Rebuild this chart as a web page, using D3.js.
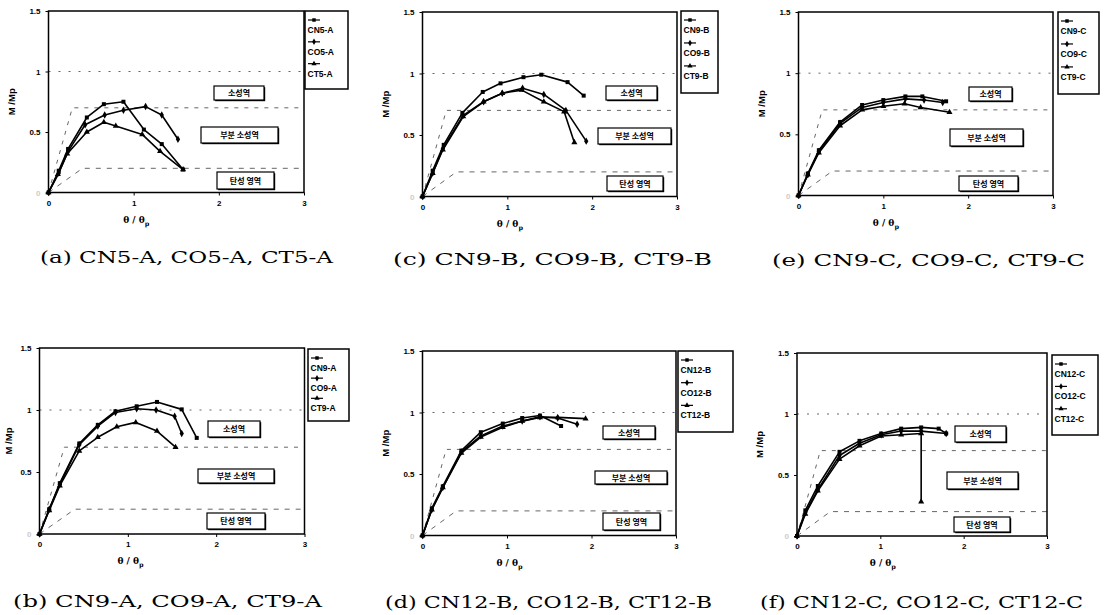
<!DOCTYPE html>
<html><head><meta charset="utf-8">
<script src="https://cdn.jsdelivr.net/npm/d3@7"></script>
<style>body{margin:0;background:#fff}</style>
</head><body>
<svg id="chart" width="1105" height="615"></svg>
<script>
// ---------- DATA ----------
const xTicks = [0, 1, 2, 3];
const yTicks = [0, 0.5, 1, 1.5];
const yTickLabels = ["0", "0.5", "1", "1.5"];
const zoneLevels = [1.0, 0.7, 0.2];
const zoneCornerX = [0, 0.28, 0.4];
const zoneNames = ["소성역", "부분 소성역", "탄성 영역"];

const a_CN = [[0,0],[0.12,0.18],[0.23,0.36],[0.45,0.62],[0.65,0.73],[0.88,0.75],[1.12,0.52],[1.33,0.40],[1.58,0.19]];
const a_CO = [[0,0],[0.12,0.16],[0.23,0.34],[0.43,0.56],[0.66,0.64],[0.88,0.68],[1.14,0.71],[1.33,0.64],[1.52,0.44]];
const a_CT = [[0,0],[0.11,0.15],[0.22,0.32],[0.45,0.50],[0.65,0.58],[0.79,0.55],[1.10,0.48],[1.31,0.34],[1.58,0.19]];

const c_CN = [[0,0],[0.12,0.21],[0.25,0.42],[0.47,0.68],[0.71,0.85],[0.92,0.92],[1.19,0.97],[1.40,0.99],[1.71,0.93],[1.90,0.82]];
const c_CO = [[0,0],[0.12,0.19],[0.24,0.39],[0.48,0.66],[0.72,0.77],[0.94,0.84],[1.18,0.88],[1.43,0.83],[1.69,0.70],[1.93,0.45]];
const c_CT = [[0,0],[0.12,0.19],[0.24,0.38],[0.48,0.65],[0.72,0.77],[0.94,0.84],[1.17,0.865],[1.43,0.77],[1.67,0.69],[1.79,0.44]];

const e_CN = [[0,0],[0.11,0.18],[0.24,0.37],[0.49,0.60],[0.75,0.74],[1.0,0.78],[1.26,0.81],[1.46,0.81],[1.74,0.77]];
const e_CO = [[0,0],[0.11,0.17],[0.24,0.36],[0.49,0.59],[0.75,0.72],[1.0,0.76],[1.26,0.79],[1.48,0.78],[1.70,0.76]];
const e_CT = [[0,0],[0.11,0.17],[0.24,0.35],[0.49,0.57],[0.75,0.70],[1.0,0.73],[1.25,0.75],[1.44,0.72],[1.78,0.68]];

const b_CN = [[0,0],[0.11,0.20],[0.23,0.41],[0.45,0.73],[0.66,0.88],[0.86,0.99],[1.10,1.03],[1.33,1.065],[1.61,1.005],[1.78,0.775]];
const b_CO = [[0,0],[0.11,0.20],[0.23,0.40],[0.45,0.72],[0.66,0.87],[0.86,0.98],[1.10,1.01],[1.32,1.0],[1.53,0.95],[1.61,0.81]];
const b_CT = [[0,0],[0.11,0.19],[0.23,0.39],[0.45,0.67],[0.66,0.78],[0.875,0.865],[1.09,0.90],[1.33,0.83],[1.54,0.70]];

const d_CN = [[0,0],[0.11,0.22],[0.24,0.40],[0.46,0.69],[0.69,0.84],[0.95,0.91],[1.18,0.955],[1.39,0.975],[1.64,0.89]];
const d_CO = [[0,0],[0.11,0.21],[0.24,0.39],[0.46,0.68],[0.69,0.81],[0.95,0.89],[1.18,0.93],[1.39,0.965],[1.60,0.955],[1.83,0.905]];
const d_CT = [[0,0],[0.11,0.21],[0.24,0.39],[0.46,0.67],[0.69,0.80],[0.95,0.88],[1.18,0.93],[1.39,0.96],[1.60,0.96],[1.93,0.95]];

const f_CN = [[0,0],[0.10,0.21],[0.25,0.41],[0.51,0.69],[0.75,0.78],[1.01,0.84],[1.25,0.88],[1.49,0.89],[1.70,0.88],[1.79,0.84]];
const f_CO = [[0,0],[0.10,0.19],[0.25,0.38],[0.51,0.66],[0.75,0.76],[1.01,0.83],[1.25,0.86],[1.49,0.86],[1.79,0.84]];
const f_CT = [[0,0],[0.10,0.18],[0.25,0.37],[0.51,0.63],[0.75,0.74],[1.01,0.82],[1.25,0.83],[1.49,0.84],[1.49,0.28]];

const legendA = ["CN5-A", "CO5-A", "CT5-A"];
const legendC = ["CN9-B", "CO9-B", "CT9-B"];
const legendE = ["CN9-C", "CO9-C", "CT9-C"];
const legendB = ["CN9-A", "CO9-A", "CT9-A"];
const legendD = ["CN12-B", "CO12-B", "CT12-B"];
const legendF = ["CN12-C", "CO12-C", "CT12-C"];

const captions = ["(a) CN5-A, CO5-A, CT5-A", "(c) CN9-B, CO9-B, CT9-B", "(e) CN9-C, CO9-C, CT9-C",
                  "(b) CN9-A, CO9-A, CT9-A", "(d) CN12-B, CO12-B, CT12-B", "(f) CN12-C, CO12-C, CT12-C"];

// ---------- LAYOUT ----------
const panels = [
  {series:[a_CN,a_CO,a_CT], legend:legendA, cap:captions[0],
   plot:[48.5,304,11,192.5], leg:[305,348,11,89],
   boxes:[[214,264,86,100],[201,278,127,143],[217,274,172,189]], capX:[40,333], capY:263},
  {series:[c_CN,c_CO,c_CT], legend:legendC, cap:captions[1],
   plot:[422.5,677,12,196.5], leg:[681,718,11,93],
   boxes:[[606,657,86,100],[598,671,128,144],[607,663,176,191]], capX:[393,712], capY:265},
  {series:[e_CN,e_CO,e_CT], legend:legendE, cap:captions[2],
   plot:[798.5,1053,12,195.5], leg:[1058,1099,12,94],
   boxes:[[969,1012,87,101],[950,1023,129,146],[959,1018,176,191]], capX:[772,1085], capY:266},
  {series:[b_CN,b_CO,b_CT], legend:legendB, cap:captions[3],
   plot:[39.5,304.5,348,534], leg:[308,349,349,421],
   boxes:[[208,260,421,437],[198,274,469,483],[207,265,513,529]], capX:[13,322], capY:607},
  {series:[d_CN,d_CO,d_CT], legend:legendD, cap:captions[4],
   plot:[422.5,676,351,535.5], leg:[678,733,351,432],
   boxes:[[603,655,426,439],[595,667,471,484],[603,660,513,530]], capX:[385,712], capY:608},
  {series:[f_CN,f_CO,f_CT], legend:legendF, cap:captions[5],
   plot:[797,1047,353,536], leg:[1052,1098,355,435],
   boxes:[[955,1006,426,442],[947,1018,472,489],[954,1010,517,532]], capX:[760,1083], capY:608}
];

const symbols = [d3.symbolSquare, d3.symbolDiamond, d3.symbolTriangle];
const svg = d3.select("#chart");
svg.append("rect").attr("width",1105).attr("height",615).attr("fill","#fff");

panels.forEach(p => {
  const [L,R,T,B] = p.plot;
  const x = d3.scaleLinear().domain([0,3]).range([L,R]);
  const y = d3.scaleLinear().domain([0,1.5]).range([B,T]);
  const g = svg.append("g");

  // zone dashed lines
  const dashes = ["2,8","4,6","5,6"];
  zoneLevels.forEach((lv,i) => {
    const pts = zoneCornerX[i] === 0 ? [[0,lv],[3,lv]] : [[0,0],[zoneCornerX[i],lv],[3,lv]];
    g.append("path").attr("d", d3.line().x(d=>x(d[0])).y(d=>y(d[1]))(pts))
      .attr("fill","none").attr("stroke","#666").attr("stroke-width",1)
      .attr("stroke-dasharray",dashes[i]);
  });

  // frame
  g.append("rect").attr("x",L).attr("y",T).attr("width",R-L).attr("height",B-T)
    .attr("fill","none").attr("stroke","#000").attr("stroke-width",1.5);

  // ticks
  const xa = d3.axisBottom(x).tickValues(xTicks).tickSize(3).tickFormat(d3.format("d"));
  const ga = g.append("g").attr("transform",`translate(0,${B})`).call(xa);
  ga.select(".domain").remove();
  ga.selectAll("text").attr("font-family","Liberation Sans, Arial").attr("font-weight","bold")
    .attr("font-size",8).attr("dy","0.9em").attr("fill","#000");
  const ya = d3.axisLeft(y).tickValues(yTicks).tickSize(3).tickFormat((d,i)=>yTickLabels[i]);
  const gy = g.append("g").attr("transform",`translate(${L},0)`).call(ya);
  gy.select(".domain").remove();
  gy.selectAll("text").attr("font-family","Liberation Sans, Arial").attr("font-weight","bold")
    .attr("font-size",8).attr("x",-8).attr("fill",(d)=>d===0?"#ccc":"#000");

  // axis titles
  g.append("text").attr("transform",`translate(${Math.max(L-34,12)},${(T+B)/2}) rotate(-90)`)
    .attr("text-anchor","middle").attr("font-family","Liberation Sans, Arial").attr("font-weight","bold")
    .attr("font-size",9.5).text("M /Mp");
  const xt = g.append("text").attr("x",x(1.03)).attr("y",B+30).attr("text-anchor","middle")
    .attr("font-family","DejaVu Serif").attr("font-weight","bold").attr("font-size",9);
  xt.append("tspan").text("θ / θ");
  xt.append("tspan").attr("font-size",6.5).attr("dy",3).text("p");

  // series
  p.series.forEach((s,i) => {
    g.append("path").attr("d", d3.line().x(d=>x(d[0])).y(d=>y(d[1]))(s))
      .attr("fill","none").attr("stroke","#000").attr("stroke-width",1.6).attr("stroke-linejoin","round");
    g.selectAll(null).data(s).enter().append("path")
      .attr("transform",d=>`translate(${x(d[0])},${y(d[1])})`)
      .attr("d", d3.symbol().type(symbols[i]).size(16)).attr("fill","#000");
  });

  // zone boxes
  p.boxes.forEach((bx,i) => {
    g.append("rect").attr("x",bx[0]+1.2).attr("y",bx[2]+1.2).attr("width",bx[1]-bx[0]).attr("height",bx[3]-bx[2]).attr("fill","#000");
    g.append("rect").attr("x",bx[0]).attr("y",bx[2]).attr("width",bx[1]-bx[0]).attr("height",bx[3]-bx[2])
      .attr("fill","#fff").attr("stroke","#000").attr("stroke-width",1.2);
    g.append("text").attr("x",(bx[0]+bx[1])/2).attr("y",(bx[2]+bx[3])/2+3).attr("text-anchor","middle")
      .attr("font-family","Noto Sans CJK KR").attr("font-weight","bold").attr("font-size",8).text(zoneNames[i]);
  });

  // legend
  const [lx1,lx2,ly1,ly2] = p.leg;
  g.append("rect").attr("x",lx1).attr("y",ly1).attr("width",lx2-lx1).attr("height",ly2-ly1)
    .attr("fill","#fff").attr("stroke","#000").attr("stroke-width",1.5);
  const sp = (ly2-ly1)*0.28;
  p.legend.forEach((nm,i) => {
    const my = ly1 + 9 + i*sp;
    g.append("line").attr("x1",lx1+3).attr("x2",lx1+15).attr("y1",my).attr("y2",my).attr("stroke","#000").attr("stroke-width",1.2);
    g.append("path").attr("transform",`translate(${lx1+9},${my})`).attr("d",d3.symbol().type(symbols[i]).size(12)).attr("fill","#000");
    g.append("text").attr("x",lx1+2.5).attr("y",my+13).attr("font-family","Liberation Sans, Arial")
      .attr("font-weight","bold").attr("font-size",8.5).text(nm);
  });

  // caption
  svg.append("text").attr("x",p.capX[0]).attr("y",p.capY).attr("font-family","DejaVu Serif")
    .attr("font-size",17).attr("textLength",p.capX[1]-p.capX[0]).attr("lengthAdjust","spacingAndGlyphs")
    .text(p.cap);
});
</script>
</body></html>
